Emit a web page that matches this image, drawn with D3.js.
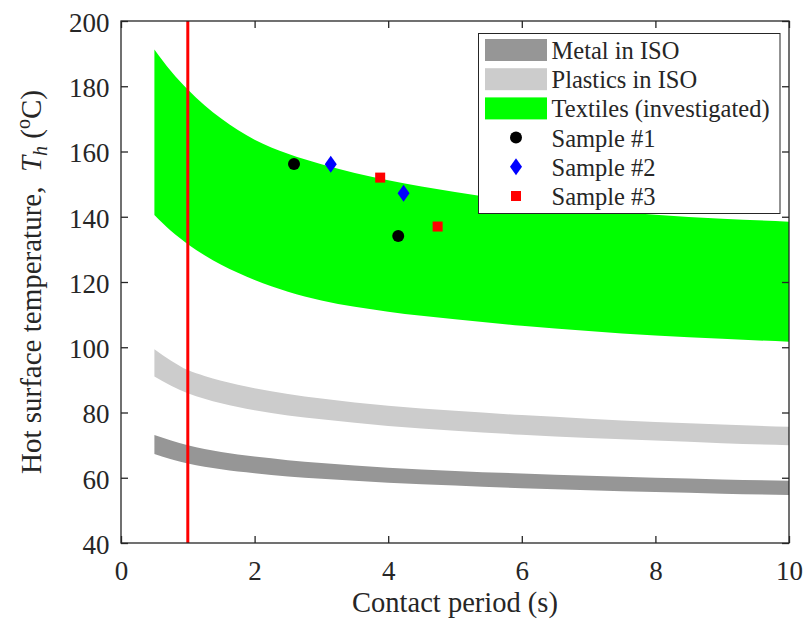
<!DOCTYPE html>
<html>
<head>
<meta charset="utf-8">
<script src="https://cdn.jsdelivr.net/npm/d3@7/dist/d3.min.js"></script>
<style>
  html, body { margin: 0; padding: 0; background: #ffffff; }
  svg { display: block; }
  text { font-family: "Liberation Serif", "Times New Roman", serif; fill: #262626; }
</style>
</head>
<body>
<svg id="chart" width="805" height="623"></svg>
<script>
// Contact period grid (s) shared by the three temperature bands
const contactTimes = [0.5, 0.75, 1, 1.25, 1.5, 1.75, 2, 2.5, 3, 4, 5, 6, 7, 8, 9, 10];

// Band limits, hot surface temperature (°C)
const metalUpper    = [73.1, 71.4, 70.0, 68.8, 67.9, 67.1, 66.5, 65.4, 64.5, 63.1, 62.1, 61.3, 60.6, 60.0, 59.5, 59.1];
const metalLower    = [67.3, 65.7, 64.4, 63.4, 62.6, 61.9, 61.4, 60.4, 59.7, 58.5, 57.6, 56.8, 56.2, 55.6, 55.1, 54.7];
const plasticsUpper = [99.4, 95.9, 93.0, 91.2, 89.7, 88.5, 87.4, 85.7, 84.3, 82.1, 80.5, 79.2, 78.1, 77.1, 76.3, 75.6];
const plasticsLower = [91.0, 88.2, 85.9, 84.2, 82.8, 81.7, 80.7, 79.1, 77.9, 75.9, 74.4, 73.2, 72.2, 71.4, 70.6, 70.0];
const textilesUpper = [191.3, 184.6, 179.0, 174.2, 170.1, 166.6, 163.6, 159.3, 156.1, 151.2, 147.6, 144.7, 142.4, 140.6, 139.4, 138.5];
const textilesLower = [140.5, 135.6, 131.6, 128.2, 125.3, 122.8, 120.6, 117.0, 114.3, 110.9, 108.6, 106.6, 105.0, 103.6, 102.6, 101.7];

// Measured samples: contact period (s) and temperature (°C)
const sample1Time = [2.59, 4.15];
const sample1Temp = [156.2, 134.1];
const sample2Time = [3.14, 4.23];
const sample2Temp = [156.1, 147.2];
const sample3Time = [3.88, 4.74];
const sample3Temp = [152.0, 137.0];

// Reference contact period (s)
const referencePeriod = 1;

// Axis ticks
const xTicks = [0, 2, 4, 6, 8, 10];
const yTicks = [40, 60, 80, 100, 120, 140, 160, 180, 200];

const width = 805, height = 623;
const margin = { top: 21, right: 16, bottom: 80, left: 121 };
const innerW = width - margin.left - margin.right;
const innerH = height - margin.top - margin.bottom;
const axisColor = "#262626";
const serif = "'Liberation Serif', 'Times New Roman', serif";

const svg = d3.select("#chart");
const g = svg.append("g").attr("transform", `translate(${margin.left},${margin.top})`);

const x = d3.scaleLinear().domain([0, 10]).range([0, innerW]);
const y = d3.scaleLinear().domain([40, 200]).range([innerH, 0]);

function bandRows(upper, lower) {
  return contactTimes.map((t, i) => ({ t, hi: upper[i], lo: lower[i] }));
}

const area = d3.area()
  .x(d => x(d.t))
  .y0(d => y(d.lo))
  .y1(d => y(d.hi))
  .curve(d3.curveMonotoneX);

const bands = [
  { name: "Metal in ISO", color: "#969696", rows: bandRows(metalUpper, metalLower) },
  { name: "Plastics in ISO", color: "#cccccc", rows: bandRows(plasticsUpper, plasticsLower) },
  { name: "Textiles (investigated)", color: "#00ff00", rows: bandRows(textilesUpper, textilesLower) }
];

g.selectAll("path.band")
  .data(bands)
  .join("path")
  .attr("class", "band")
  .attr("d", d => area(d.rows))
  .attr("fill", d => d.color);

// Vertical reference line
g.append("line")
  .attr("x1", x(referencePeriod)).attr("x2", x(referencePeriod))
  .attr("y1", 0).attr("y2", innerH)
  .attr("stroke", "#ff0000")
  .attr("stroke-width", 3);

// Marker shapes
const markerShapes = {
  circle: sel => sel.append("circle").attr("r", 6).attr("fill", "#000000"),
  diamond: sel => sel.append("path").attr("d", "M0,-8.5L6,0L0,8.5L-6,0Z").attr("fill", "#0000ff"),
  square: sel => sel.append("rect").attr("x", -5).attr("y", -5).attr("width", 10).attr("height", 10).attr("fill", "#ff0000")
};

const samples = [
  { name: "Sample #1", shape: "circle", times: sample1Time, temps: sample1Temp },
  { name: "Sample #2", shape: "diamond", times: sample2Time, temps: sample2Temp },
  { name: "Sample #3", shape: "square", times: sample3Time, temps: sample3Temp }
];

samples.forEach(s => {
  s.times.forEach((t, i) => {
    const m = g.append("g").attr("transform", `translate(${x(t)},${y(s.temps[i])})`);
    markerShapes[s.shape](m);
  });
});

// Axes: ticks point inward on all four sides
const tickLen = 7;
const xAxis = g.append("g").attr("transform", `translate(0,${innerH})`)
  .call(d3.axisBottom(x).tickValues(xTicks).tickSizeInner(-tickLen).tickSizeOuter(0).tickFormat(d3.format("d")));
const xTop = g.append("g")
  .call(d3.axisTop(x).tickValues(xTicks).tickSizeInner(-tickLen).tickSizeOuter(0).tickFormat(""));
const yAxis = g.append("g")
  .call(d3.axisLeft(y).tickValues(yTicks).tickSizeInner(-tickLen).tickSizeOuter(0).tickFormat(d3.format("d")));
const yRight = g.append("g").attr("transform", `translate(${innerW},0)`)
  .call(d3.axisRight(y).tickValues(yTicks).tickSizeInner(-tickLen).tickSizeOuter(0).tickFormat(""));

[xAxis, xTop, yAxis, yRight].forEach(a => {
  a.select(".domain").remove();
  a.selectAll(".tick line").attr("stroke", axisColor).attr("stroke-width", 1.3);
});

xAxis.selectAll(".tick text")
  .attr("y", 37).attr("dy", 0)
  .attr("font-size", 27)
  .attr("fill", axisColor)
  .style("font-family", serif);
yAxis.selectAll(".tick text")
  .attr("x", -11.5).attr("dy", "0.38em")
  .attr("font-size", 27)
  .attr("fill", axisColor)
  .style("font-family", serif);
xTop.selectAll(".tick text").remove();
yRight.selectAll(".tick text").remove();

// Box around the plot
g.append("rect")
  .attr("x", 0).attr("y", 0).attr("width", innerW).attr("height", innerH)
  .attr("fill", "none").attr("stroke", axisColor).attr("stroke-width", 1.3);

// Axis titles
svg.append("text")
  .attr("x", margin.left + innerW / 2)
  .attr("y", 612)
  .attr("text-anchor", "middle")
  .attr("font-size", 28.5)
  .text("Contact period (s)");

const yLabel = svg.append("text")
  .attr("transform", `translate(41,${margin.top + innerH / 2}) rotate(-90)`)
  .attr("text-anchor", "middle")
  .attr("font-size", 29);
yLabel.append("tspan").text("Hot surface temperature,\u00a0\u00a0");
yLabel.append("tspan").attr("font-style", "italic").text("T");
yLabel.append("tspan").attr("font-style", "italic").attr("font-size", 20).attr("dy", 6).text("h");
yLabel.append("tspan").attr("dy", -6).text("\u00a0(");
yLabel.append("tspan").attr("font-size", 20).attr("dy", -11).text("o");
yLabel.append("tspan").attr("dy", 11).text("C)");

// Legend
const legend = svg.append("g").attr("transform", "translate(478.5,33.5)");
legend.append("rect")
  .attr("width", 301.5).attr("height", 180)
  .attr("fill", "#ffffff").attr("stroke", axisColor).attr("stroke-width", 1);

const rowStep = 29.2, firstRow = 16.5;
const legendItems = bands.map(b => ({ name: b.name, kind: "band", color: b.color }))
  .concat(samples.map(s => ({ name: s.name, kind: "marker", shape: s.shape })));

legendItems.forEach((item, i) => {
  const cy = firstRow + i * rowStep;
  const row = legend.append("g").attr("transform", `translate(0,${cy})`);
  if (item.kind === "band") {
    row.append("rect").attr("x", 6.5).attr("y", -11).attr("width", 62).attr("height", 22).attr("fill", item.color);
  } else {
    const m = row.append("g").attr("transform", "translate(37.5,0)");
    markerShapes[item.shape](m);
  }
  row.append("text")
    .attr("x", 73).attr("y", 9)
    .attr("font-size", 24.5)
    .text(item.name);
});
</script>
</body>
</html>
